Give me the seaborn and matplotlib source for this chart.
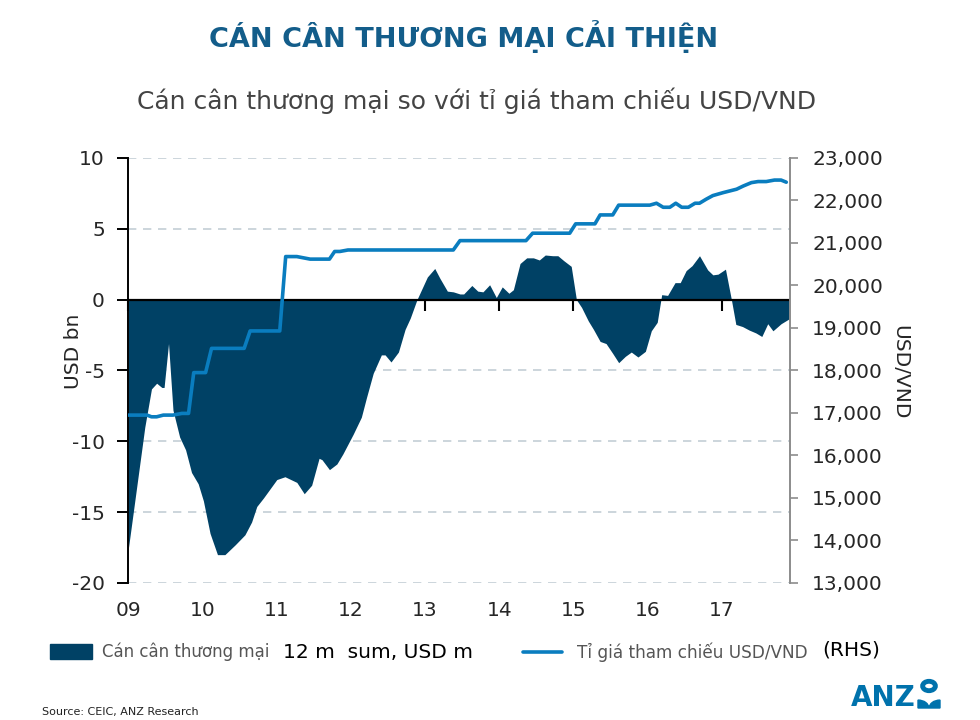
import numpy as np
import pandas as pd
import seaborn as sns
import matplotlib.pyplot as plt
from matplotlib.patches import Patch, Circle, Wedge
from matplotlib.lines import Line2D
from matplotlib.ticker import FuncFormatter

# trade balance, 12m sum, USD bn (time as decimal year, 9 = 2009)
tb_t = [9.00, 9.22, 9.31, 9.38, 9.45, 9.48, 9.54, 9.60, 9.69, 9.77, 9.85, 9.94,
        10.01, 10.10, 10.20, 10.30, 10.44, 10.57, 10.66, 10.73, 10.82, 11.00,
        11.11, 11.27, 11.37, 11.47, 11.57, 11.61, 11.71, 11.81, 11.89, 11.99,
        12.03, 12.14, 12.21, 12.30, 12.41, 12.46, 12.54, 12.64, 12.73, 12.80,
        12.89, 13.03, 13.13, 13.20, 13.30, 13.38, 13.47, 13.52, 13.63, 13.71,
        13.78, 13.87, 13.96, 14.04, 14.13, 14.19, 14.28, 14.37, 14.46, 14.54,
        14.62, 14.72, 14.79, 14.87, 14.97, 15.04, 15.11, 15.20, 15.27, 15.36,
        15.44, 15.53, 15.61, 15.70, 15.78, 15.87, 15.97, 16.05, 16.13, 16.19,
        16.27, 16.37, 16.44, 16.52, 16.60, 16.70, 16.81, 16.88, 16.95, 17.05,
        17.13, 17.19, 17.28, 17.37, 17.46, 17.54, 17.62, 17.69, 17.80, 17.91]
tb_val = [-17.5, -9.0, -6.3, -5.9, -6.2, -6.2, -3.1, -7.8, -9.7, -10.6, -12.2, -13.0,
          -14.2, -16.5, -18.0, -18.0, -17.3, -16.6, -15.7, -14.6, -14.0, -12.7,
          -12.5, -12.9, -13.7, -13.1, -11.2, -11.3, -12.0, -11.6, -10.9, -9.9,
          -9.5, -8.3, -6.9, -5.2, -3.9, -3.9, -4.4, -3.7, -2.1, -1.3,
          0.0, 1.6, 2.2, 1.5, 0.6, 0.55, 0.4, 0.4, 1.0, 0.6,
          0.55, 1.05, 0.15, 0.9, 0.45, 0.7, 2.55, 2.95, 2.95, 2.8,
          3.15, 3.1, 3.1, 2.75, 2.35, 0.0, -0.55, -1.5, -2.1, -2.95,
          -3.1, -3.8, -4.45, -4.0, -3.7, -4.05, -3.65, -2.2, -1.6, 0.35,
          0.3, 1.2, 1.2, 2.05, 2.4, 3.1, 2.1, 1.75, 1.8, 2.15,
          0.0, -1.75, -1.9, -2.15, -2.35, -2.6, -1.7, -2.2, -1.7, -1.35]

# USD/VND reference rate (RHS)
fx_t = [9.00, 9.25, 9.31, 9.38, 9.47, 9.60, 9.72, 9.81, 9.88, 10.04, 10.12, 10.56,
        10.64, 11.04, 11.12, 11.27, 11.45, 11.71, 11.78, 11.85, 11.96, 13.38,
        13.47, 14.36, 14.45, 14.95, 15.03, 15.29, 15.36, 15.53, 15.61, 16.03,
        16.12, 16.21, 16.30, 16.38, 16.46, 16.55, 16.64, 16.70, 16.79, 16.88,
        17.02, 17.20, 17.29, 17.40, 17.49, 17.60, 17.71, 17.80, 17.87]
fx_val = [16950, 16950, 16910, 16910, 16950, 16950, 16990, 16990, 17950, 17950, 18520, 18520,
          18930, 18930, 20680, 20680, 20620, 20620, 20800, 20800, 20835, 20835,
          21055, 21055, 21230, 21230, 21450, 21450, 21660, 21660, 21890, 21890,
          21935, 21840, 21840, 21935, 21840, 21840, 21935, 21935, 22030, 22115,
          22185, 22265, 22340, 22420, 22445, 22445, 22480, 22480, 22430]

years = [9, 10, 11, 12, 13, 14, 15, 16, 17]
year_labels = ["09", "10", "11", "12", "13", "14", "15", "16", "17"]

navy = "#004165"
blue = "#0a7dbf"
grey_txt = "#555555"

sns.set_theme(style="white")
plt.rcParams['font.family'] = ['DejaVu Sans']
plt.rcParams['axes.unicode_minus'] = False

fig = plt.figure(figsize=(9.8, 7.2), dpi=100)
ax = fig.add_axes([0.1311, 0.1903, 0.8061 - 0.1311, 0.7806 - 0.1903])

ax.fill_between(tb_t, tb_val, 0, color=navy, linewidth=0, zorder=2)
ax.axhline(0, color="black", lw=1.6, zorder=3)
ax.set_xlim(9, 17.92)
ax.set_ylim(-20, 10)
ax.set_yticks([-20, -15, -10, -5, 0, 5, 10])
ax.yaxis.grid(True, color="#c3ced6", linestyle=(0, (5, 4)), lw=1.2)
ax.set_axisbelow(True)

for s in ["top", "right"]:
    ax.spines[s].set_visible(False)
ax.spines["left"].set_color("black")
ax.spines["left"].set_linewidth(1.4)
ax.spines["bottom"].set_position(("data", 0))
ax.spines["bottom"].set_visible(False)
ax.set_xticks(years)
ax.set_xticklabels([])
ax.tick_params(axis="x", bottom=True, length=8, width=1.5, color="black", direction="out")
ax.tick_params(axis="y", left=True, length=8, width=1.4, color="black", labelsize=14.5, pad=9)
ax.set_ylabel("USD bn", fontsize=14.5)
ax.yaxis.set_label_coords(-0.068, 0.544)

sec = ax.secondary_xaxis(0)
sec.set_xticks(years, year_labels)
sec.tick_params(length=0, labelsize=14.5, pad=13)
sec.spines["bottom"].set_visible(False)

ax2 = ax.twinx()
sns.lineplot(x=fx_t, y=fx_val, ax=ax2, color=blue, lw=2.6, estimator=None, sort=False)
ax2.set_ylim(13000, 23000)
ax2.set_yticks(range(13000, 23001, 1000))
ax2.yaxis.set_major_formatter(FuncFormatter(lambda v, p: f"{int(v):,}"))
for s in ["top", "left", "bottom"]:
    ax2.spines[s].set_visible(False)
ax2.spines["right"].set_color("#8c8c8c")
ax2.spines["right"].set_linewidth(1.4)
ax2.tick_params(axis="y", right=True, length=6, width=1.2, color="#8c8c8c", labelsize=14.5, pad=10)
ax2.set_ylabel("USD/VND", fontsize=14.5, rotation=270)
ax2.yaxis.set_label_coords(1.18, 0.496)

fig.text(0.473, 0.949, "CÁN CÂN THƯƠNG MẠI CẢI THIỆN", ha="center", va="center",
         fontsize=19.5, fontweight="bold", color="#135d8a")
fig.text(0.486, 0.86, "Cán cân thương mại so với tỉ giá tham chiếu USD/VND", ha="center",
         va="center", fontsize=18, color="#444444")

# legend
leg1 = fig.legend(handles=[Patch(facecolor=navy, edgecolor=navy)], labels=["Cán cân thương mại"],
                  loc="center left", bbox_to_anchor=(50 / 980, 1 - 652 / 720), frameon=False,
                  fontsize=12, labelcolor=grey_txt, handlelength=2.5, handleheight=1.0,
                  handletextpad=0.6, borderpad=0, borderaxespad=0)
fig.text(283 / 980, 1 - 652 / 720, "12 m  sum, USD m", ha="left", va="center", fontsize=14.5, color="black")
leg2 = fig.legend(handles=[Line2D([], [], color=blue, lw=2.6)], labels=["Tỉ giá tham chiếu USD/VND"],
                  loc="center left", bbox_to_anchor=(523 / 980, 1 - 652 / 720), frameon=False,
                  fontsize=12.2, labelcolor=grey_txt, handlelength=2.3, handletextpad=0.9,
                  borderpad=0, borderaxespad=0)
fig.text(822 / 980, 1 - 650 / 720, "(RHS)", ha="left", va="center", fontsize=14.5, color="black")

fig.text(42 / 980, 1 - 712 / 720, "Source: CEIC, ANZ Research", ha="left", va="center",
         fontsize=8, color="#222222")

# ANZ logo
fig.text(851 / 980, 1 - 698 / 720, "ANZ", ha="left", va="center", fontsize=20,
         fontweight="heavy", color="#0072ac")
fig.patches.append(Circle((929 / 980, 1 - 686 / 720), 0.0065, transform=fig.transFigure,
                          facecolor="none", edgecolor="#0072ac", lw=3.5))
fig.patches.append(Wedge((918 / 980, 1 - 708 / 720), 0.011, 0, 90, transform=fig.transFigure,
                         color="#0072ac"))
fig.patches.append(Wedge((940 / 980, 1 - 708 / 720), 0.011, 90, 180, transform=fig.transFigure,
                         color="#0072ac"))

fig.savefig("out.png", dpi=100)
